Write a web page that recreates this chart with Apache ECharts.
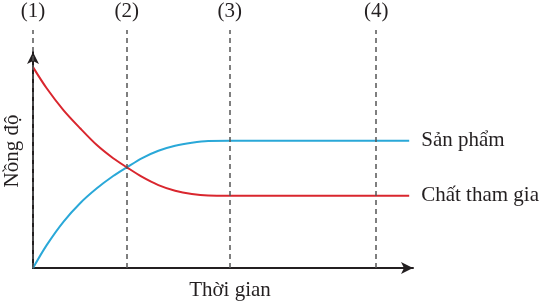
<!DOCTYPE html>
<html><head><meta charset="utf-8">
<script src="https://cdn.jsdelivr.net/npm/echarts@6/dist/echarts.min.js"></script>
<style>html,body{margin:0;padding:0;background:#fff}#c{width:546px;height:303px}</style>
</head><body><div id="c"></div>
<script>
var timeX = [0, 3.6, 8.0, 12.4, 16.8, 21.1, 24.7, 28.6, 33.0, 37.4, 41.8, 46.1, 51.8, 99];
var reactant = [93, 83.2, 73.1, 64.7, 56.9, 50.8, 46.6, 42.3, 38.4, 35.8, 34.3, 33.6, 33.5, 33.5];
var product = [0, 10.6, 21.4, 30.0, 36.9, 42.6, 46.6, 50.8, 54.3, 56.6, 58.0, 58.8, 58.9, 58.9];
var stageX = [0, 24.7, 51.8, 90.3];
var stageLabels = ['(1)', '(2)', '(3)', '(4)'];
var seriesNames = ['Sản phẩm', 'Chất tham gia'];
var xName = 'Thời gian', yName = 'Nồng độ';

var font = 'Liberation Serif';
var txt = '#231f20';
function pairs(ys){ return timeX.map(function(x,i){ return [x, ys[i]]; }); }

var chart = echarts.init(document.getElementById('c'));
chart.setOption({
  animation: false,
  grid: [
    {left: 33, right: 133, top: 52, bottom: 35, containLabel: false, outerBoundsMode: 'none'},
    {left: 33, right: 133, top: 30, bottom: 35, containLabel: false, outerBoundsMode: 'none'}
  ],
  xAxis: [
    {type: 'value', gridIndex: 0, min: 0, max: 100,
     name: xName, nameLocation: 'middle', nameGap: 12,
     nameTextStyle: {fontFamily: font, fontSize: 21, color: txt, padding: [0,0,0,14], verticalAlign: 'top'},
     axisLine: {lineStyle: {color: '#231f20', width: 2}, symbol: ['none', 'arrow'], symbolSize: [9, 12]},
     axisTick: {show: false}, axisLabel: {show: false}, splitLine: {show: false}},
    {type: 'value', gridIndex: 1, min: 0, max: 100, show: false}
  ],
  yAxis: [
    {type: 'value', gridIndex: 0, min: 0, max: 100,
     name: yName, nameLocation: 'middle', nameGap: 10,
     nameTextStyle: {fontFamily: font, fontSize: 21, color: txt, padding: [0,0,0,18]},
     axisLine: {lineStyle: {color: '#231f20', width: 2}, symbol: ['none', 'arrow'], symbolSize: [9, 12]},
     axisTick: {show: false}, axisLabel: {show: false}, splitLine: {show: false}},
    {type: 'value', gridIndex: 1, min: 0, max: 100, show: false}
  ],
  series: [
    {type: 'line', xAxisIndex: 1, yAxisIndex: 1, data: [], silent: true,
     markLine: {silent: true, symbol: ['none','none'],
       lineStyle: {type: [5, 4], color: '#555', width: 1.5},
       label: {show: true, position: 'end', distance: 8, fontFamily: font, fontSize: 21, color: txt,
               formatter: function(p){ return stageLabels[p.dataIndex]; }},
       data: stageX.map(function(v){ return {xAxis: v}; })}},
    {type: 'line', name: seriesNames[0], data: pairs(product), smooth: 0.3,
     showSymbol: false, lineStyle: {color: '#2aa8d8', width: 2}, itemStyle: {color: '#2aa8d8'},
     endLabel: {show: true, formatter: '{a}', distance: 12, fontFamily: font, fontSize: 21, color: txt}},
    {type: 'line', name: seriesNames[1], data: pairs(reactant), smooth: 0.3,
     showSymbol: false, lineStyle: {color: '#d9262e', width: 2}, itemStyle: {color: '#d9262e'},
     endLabel: {show: true, formatter: '{a}', distance: 12, fontFamily: font, fontSize: 21, color: txt}}
  ]
});
</script></body></html>
